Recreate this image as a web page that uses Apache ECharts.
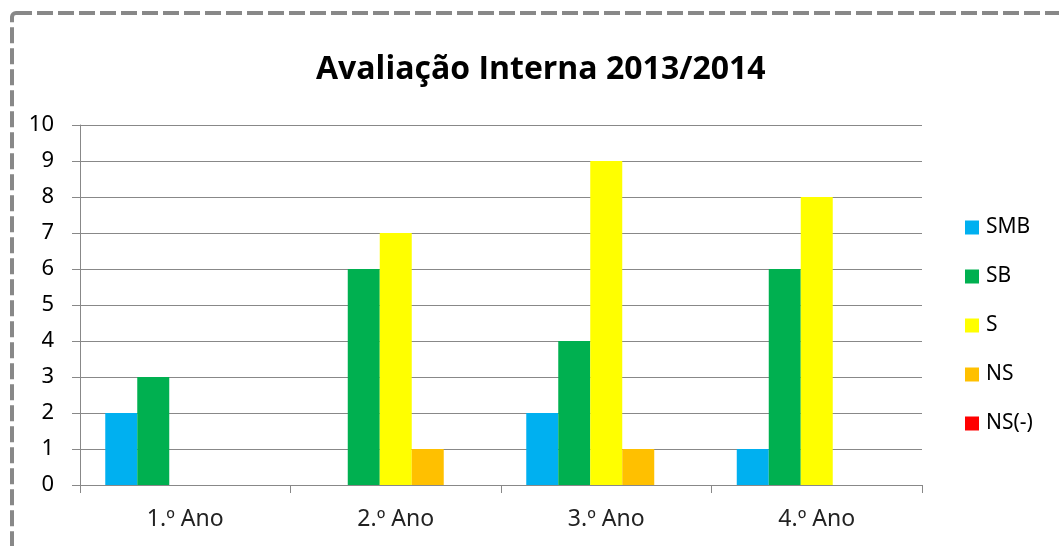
<!DOCTYPE html>
<html>
<head>
<meta charset="utf-8">
<style>
  html, body { margin: 0; padding: 0; background: #fff; }
  #chart { width: 1059px; height: 546px; }
</style>
<script src="https://cdn.jsdelivr.net/npm/echarts@6/dist/echarts.min.js"></script>
</head>
<body>
<div id="chart"></div>
<script>
// anos (categorias)
var anos = ['1.º Ano', '2.º Ano', '3.º Ano', '4.º Ano'];

// valores por classificação
var smb = [2, 0, 2, 1];
var sb = [3, 6, 4, 6];
var s = [0, 7, 9, 8];
var ns = [0, 1, 1, 0];
var nsMenos = [0, 0, 0, 0];

var nomes = ['SMB', 'SB', 'S', 'NS', 'NS(-)'];
var cores = ['#00B0F0', '#00B050', '#FFFF00', '#FFC000', '#FF0000'];
var valores = [smb, sb, s, ns, nsMenos];

var fonte = '"Noto Sans", "Open Sans", sans-serif';

var series = [];
for (var i = 0; i < nomes.length; i++) {
    series.push({
        name: nomes[i],
        type: 'bar',
        data: valores[i],
        barGap: '0%',
        barCategoryGap: '24%',
        itemStyle: { color: cores[i] },
        emphasis: { disabled: true }
    });
}

var chart = echarts.init(document.getElementById('chart'));

chart.setOption({
    animation: false,
    backgroundColor: '#fff',
    textStyle: { fontFamily: fonte },
    title: {
        text: 'Avaliação Interna 2013/2014',
        left: 316,
        top: 54,
        padding: 0,
        textStyle: { fontFamily: '"Open Sans", sans-serif', fontSize: 32, fontWeight: 'bold', color: '#000' }
    },
    //moldura tracejada
    graphic: [{
        type: 'rect',
        shape: { x: 12, y: 13, width: 1100, height: 600, r: 4 },
        style: { fill: 'none', stroke: '#888', lineWidth: 4, lineDash: [16, 5] },
        silent: true
    }],
    legend: {
        orient: 'vertical',
        left: 965,
        top: 217,
        padding: 0,
        itemWidth: 14,
        itemHeight: 14,
        itemGap: 28,
        icon: 'rect',
        data: nomes,
        textStyle: { fontFamily: fonte, fontSize: 21, color: '#000', padding: [0, 0, 0, 2] }
    },
    grid: { left: 80, right: 137, top: 125, bottom: 61, containLabel: false },
    xAxis: {
        type: 'category',
        data: anos,
        axisLine: { lineStyle: { color: '#888' } },
        axisTick: { show: true, length: 8, lineStyle: { color: '#888' } },
        axisLabel: { fontFamily: fonte, fontSize: 23, color: '#222', margin: 23 }
    },
    yAxis: {
        type: 'value',
        min: 0,
        max: 10,
        interval: 1,
        axisLine: { show: true, lineStyle: { color: '#888' } },
        axisTick: { show: true, length: 8, lineStyle: { color: '#888' } },
        splitLine: { lineStyle: { color: '#888' } },
        axisLabel: { fontFamily: fonte, fontSize: 22, color: '#000', margin: 26 }
    },
    series: series
});
</script>
</body>
</html>
